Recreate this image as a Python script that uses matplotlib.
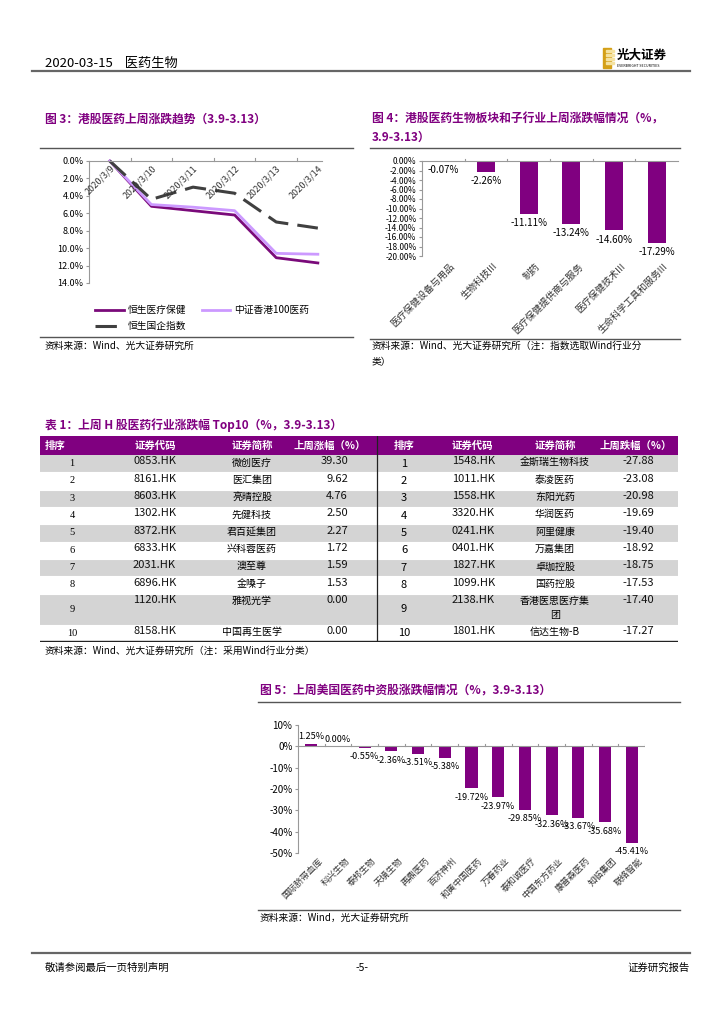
import matplotlib
matplotlib.use('Agg')
import matplotlib.pyplot as plt
from matplotlib.lines import Line2D
from matplotlib.patches import Rectangle

plt.rcParams['font.family'] = ['Noto Sans CJK SC', 'DejaVu Sans']
plt.rcParams['axes.unicode_minus'] = False

### DATA ====

# fig 3: weekly trend
dates3 = ['2020/3/9', '2020/3/10', '2020/3/11', '2020/3/12', '2020/3/13', '2020/3/14']
hs_health = [0.0, 5.2, 5.7, 6.2, 11.1, 11.7]
csi_hk100 = [0.0, 5.0, 5.3, 5.7, 10.6, 10.7]
hs_china = [0.0, 4.4, 3.0, 3.7, 7.0, 7.7]
names3 = ['恒生医疗保健', '中证香港100医药', '恒生国企指数']

# fig 4: sub-industries
cats4 = ['医疗保健设备与用品', '生物科技III', '制药', '医疗保健提供商与服务', '医疗保健技术III', '生命科学工具和服务III']
vals4 = [-0.07, -2.26, -11.11, -13.24, -14.60, -17.29]

# table 1
rank = list(range(1, 11))
up_code = ['0853.HK', '8161.HK', '8603.HK', '1302.HK', '8372.HK', '6833.HK', '2031.HK', '6896.HK', '1120.HK', '8158.HK']
up_name = ['微创医疗', '医汇集团', '亮晴控股', '先健科技', '君百延集团', '兴科蓉医药', '澳至尊', '金嗓子', '雅视光学', '中国再生医学']
up_val = [39.30, 9.62, 4.76, 2.50, 2.27, 1.72, 1.59, 1.53, 0.00, 0.00]
dn_code = ['1548.HK', '1011.HK', '1558.HK', '3320.HK', '0241.HK', '0401.HK', '1827.HK', '1099.HK', '2138.HK', '1801.HK']
dn_name = ['金斯瑞生物科技', '泰凌医药', '东阳光药', '华润医药', '阿里健康', '万嘉集团', '卓珈控股', '国药控股', '香港医思医疗集\n团', '信达生物-B']
dn_val = [-27.88, -23.08, -20.98, -19.69, -19.40, -18.92, -18.75, -17.53, -17.40, -17.27]
row_units = [1, 1, 1, 1, 1, 1, 1, 1, 1.8, 1]

# fig 5: US-listed Chinese pharma
cats5 = ['国际脐带血库', '科兴生物', '泰邦生物', '天境生物', '再鼎医药', '百济神州', '和黄中国医药',
         '万春药业', '泰和诚医疗', '中国东方药业', '康普森医药', '知临集团', '联络智能']
vals5 = [1.25, 0.00, -0.55, -2.36, -3.51, -5.38, -19.72, -23.97, -29.85, -32.36, -33.67, -35.68, -45.41]


### LAYOUT HELPERS ====

W, H = 724, 1024
PURPLE = '#800080'
fig = plt.figure(figsize=(W / 100, H / 100), dpi=100)

def box(l, t, r, b):
  return [l / W, 1 - b / H, (r - l) / W, (b - t) / H]

def ftxt(x, y, s, **kw):
  fig.text(x / W, 1 - y / H, s, **kw)

def hline(y, x0, x1, color='#555555', lw=1.0):
  fig.add_artist(Line2D([x0 / W, x1 / W], [1 - y / H, 1 - y / H], color=color, lw=lw))


### PAGE HEADER / FOOTER ====

ftxt(45, 63, '2020-03-15    医药生物', fontsize=9.5, va='center')
hline(71, 32, 690, '#666666', 1.6)
fig.add_artist(Rectangle((603 / W, 1 - 68 / H), 8 / W, 20 / H, color='#d4a017'))
for k in range(4):
  fig.add_artist(Rectangle((606 / W, 1 - (52 + 4 * k) / H), 8 / W, 2 / H, color='#f4e2a0'))
ftxt(617, 55, '光大证券', fontsize=9, fontweight='bold', va='center')
ftxt(617, 66, 'EVERBRIGHT SECURITIES', fontsize=2.6, va='center')

hline(953, 32, 690, '#666666', 1.6)
ftxt(45, 968, '敬请参阅最后一页特别声明', fontsize=7.5, va='center')
ftxt(362, 968, '-5-', fontsize=7.5, va='center', ha='center')
ftxt(690, 968, '证券研究报告', fontsize=7.5, va='center', ha='right')


### FIG 3 ====

ftxt(45, 119, '图 3：港股医药上周涨跌趋势（3.9-3.13）', fontsize=8.5, fontweight='bold', color=PURPLE, va='center')
hline(148, 40, 353)
ax3 = fig.add_axes(box(89, 161, 322, 283))
x3 = range(len(dates3))
l1, = ax3.plot(x3, hs_health, color='#7a0a7a', lw=2, clip_on=False)
l2, = ax3.plot(x3, csi_hk100, color='#cc99ff', lw=2, clip_on=False)
l3, = ax3.plot(x3, hs_china, color='#404040', lw=2.2, dashes=(7, 3), clip_on=False)
ax3.set_xlim(-0.5, 5.1)
ax3.set_ylim(14, 0)
ax3.set_yticks(range(0, 15, 2))
ax3.set_yticklabels(['%.1f%%' % v for v in range(0, 15, 2)], fontsize=6.5)
ax3.set_xticks([])
for s in ['right', 'bottom']:
  ax3.spines[s].set_visible(False)
for s in ['left', 'top']:
  ax3.spines[s].set_color('#999999')
ax3.tick_params(axis='y', length=2, color='#999999', pad=2)
for i in range(len(dates3) - 1):
  ax3.plot([i + 0.5, i + 0.5], [0, -0.35], color='#999999', lw=0.8, clip_on=False)
for i, d in enumerate(dates3):
  ax3.text(i, 0.3, d, rotation=45, ha='right', va='top', rotation_mode='anchor',
           fontsize=6.5, color='#333333')
ax3.legend([l1, l3, l2], [names3[0], names3[2], names3[1]], ncol=2, frameon=False,
           fontsize=7, loc='upper left', bbox_to_anchor=(-0.01, -0.11),
           handlelength=2.9, columnspacing=1.6, labelspacing=0.6, handletextpad=0.4)
hline(337, 40, 353)
ftxt(45, 346, '资料来源：Wind、光大证券研究所', fontsize=7, va='center')


### FIG 4 ====

ftxt(372, 119, '图 4：港股医药生物板块和子行业上周涨跌幅情况（%，', fontsize=8.5, fontweight='bold', color=PURPLE, va='center')
ftxt(372, 137, '3.9-3.13）', fontsize=8.5, fontweight='bold', color=PURPLE, va='center')
hline(148, 370, 680)
ax4 = fig.add_axes(box(422, 161, 678, 256))
x4 = range(len(cats4))
ax4.bar(x4, vals4, width=0.42, color=PURPLE)
ax4.set_xlim(-0.5, 5.5)
ax4.set_ylim(-20, 0)
ax4.set_yticks(range(0, -21, -2))
ax4.set_yticklabels(['%.2f%%' % v if v else '0.00%' for v in range(0, -21, -2)], fontsize=6)
ax4.set_xticks([])
for s in ['right', 'bottom']:
  ax4.spines[s].set_visible(False)
for s in ['left', 'top']:
  ax4.spines[s].set_color('#999999')
ax4.tick_params(axis='y', length=2, color='#999999', pad=2)
for i in range(len(cats4) - 1):
  ax4.plot([i + 0.5, i + 0.5], [0, 0.5], color='#999999', lw=0.8, clip_on=False)
for i, v in enumerate(vals4):
  ax4.annotate('%.2f%%' % v, (i, v), xytext=(0, -3), textcoords='offset points',
               ha='center', va='top', fontsize=7)
for i, c in enumerate(cats4):
  ax4.text(i + 0.15, -21.2, c, rotation=45, ha='right', va='top', rotation_mode='anchor',
           fontsize=6.8, color='#333333')
hline(339, 370, 680)
ftxt(372, 346, '资料来源：Wind、光大证券研究所（注：指数选取Wind行业分', fontsize=7, va='center')
ftxt(372, 362, '类）', fontsize=7, va='center')


### TABLE 1 ====

ftxt(45, 425, '表 1：上周 H 股医药行业涨跌幅 Top10（%，3.9-3.13）', fontsize=8.5, fontweight='bold', color=PURPLE, va='center')
axt = fig.add_axes(box(40, 436, 678, 642))
axt.set_xlim(40, 678)
axt.set_ylim(642, 436)
axt.axis('off')
head_top, head_h = 436, 19
unit = (642 - head_top - head_h) / sum(row_units)
axt.add_patch(Rectangle((40, head_top), 638, head_h, color=PURPLE))
hkw = dict(color='white', fontsize=7.5, fontweight='bold', va='center')
hy = head_top + head_h / 2
axt.text(45, hy, '排序', ha='left', **hkw)
axt.text(155, hy, '证券代码', ha='center', **hkw)
axt.text(252, hy, '证券简称', ha='center', **hkw)
axt.text(330, hy, '上周涨幅（%）', ha='center', **hkw)
axt.text(404, hy, '排序', ha='center', **hkw)
axt.text(472, hy, '证券代码', ha='center', **hkw)
axt.text(555, hy, '证券简称', ha='center', **hkw)
axt.text(636, hy, '上周跌幅（%）', ha='center', **hkw)
top = head_top + head_h
for i in range(len(rank)):
  h = row_units[i] * unit
  if i % 2 == 0:
    axt.add_patch(Rectangle((40, top), 638, h, color='#d4d4d4', lw=0))
  axt.plot([40, 678], [top + h, top + h], color='white', lw=0.8)
  tkw = dict(fontsize=8, va='top', color='#111111')
  axt.text(72, top + h / 2, str(rank[i]), ha='center', va='center', fontsize=7.5, family='Liberation Serif')
  axt.text(133, top + 1.5, up_code[i], ha='left', **tkw)
  axt.text(252, top + 2.5, up_name[i], ha='center', va='top', fontsize=7.2)
  axt.text(348, top + 1.5, '%.2f' % up_val[i], ha='right', **tkw)
  axt.text(404, top + h / 2, str(rank[i]), ha='center', va='center', fontsize=8)
  axt.text(452, top + 1.5, dn_code[i], ha='left', **tkw)
  axt.text(555, top + 2.5, dn_name[i], ha='center', va='top', fontsize=7.2, linespacing=1.5)
  axt.text(654, top + 1.5, '%.2f' % dn_val[i], ha='right', **tkw)
  top += h
axt.plot([377, 377], [head_top, 642], color='#222222', lw=0.9)
axt.plot([40, 678], [641.5, 641.5], color='#222222', lw=1.0)
ftxt(45, 651, '资料来源：Wind、光大证券研究所（注：采用Wind行业分类）', fontsize=7, va='center')


### FIG 5 ====

ftxt(260, 690, '图 5：上周美国医药中资股涨跌幅情况（%，3.9-3.13）', fontsize=8.5, fontweight='bold', color=PURPLE, va='center')
hline(702, 258, 680)
ax5 = fig.add_axes(box(298, 725, 645, 853))
x5 = range(len(cats5))
ax5.bar(x5, vals5, width=0.45, color=PURPLE)
ax5.set_xlim(-0.5, 12.5)
ax5.set_ylim(-50, 10)
ax5.set_yticks(range(10, -51, -10))
ax5.set_yticklabels(['%d%%' % v for v in range(10, -51, -10)], fontsize=7)
ax5.set_xticks([])
for s in ['right', 'bottom', 'top']:
  ax5.spines[s].set_visible(False)
ax5.spines['left'].set_color('#999999')
ax5.tick_params(axis='y', length=2, color='#999999', pad=2)
ax5.axhline(0, color='#999999', lw=0.8)
for i in range(len(cats5)):
  ax5.plot([i + 0.5, i + 0.5], [0, 1.2], color='#999999', lw=0.8)
for i, v in enumerate(vals5):
  if v >= 0:
    ax5.annotate('%.2f%%' % v, (i, v), xytext=(0, 2), textcoords='offset points',
                 ha='center', va='bottom', fontsize=6.5)
  else:
    ax5.annotate('%.2f%%' % v, (i, v), xytext=(0, -3), textcoords='offset points',
                 ha='center', va='top', fontsize=6.5)
for i, c in enumerate(cats5):
  ax5.text(i + 0.25, -51.5, c, rotation=45, ha='right', va='top', rotation_mode='anchor',
           fontsize=6.4, color='#333333')
hline(910, 258, 680)
ftxt(260, 918, '资料来源：Wind，光大证券研究所', fontsize=7, va='center')

fig.savefig('out.png', dpi=100)
